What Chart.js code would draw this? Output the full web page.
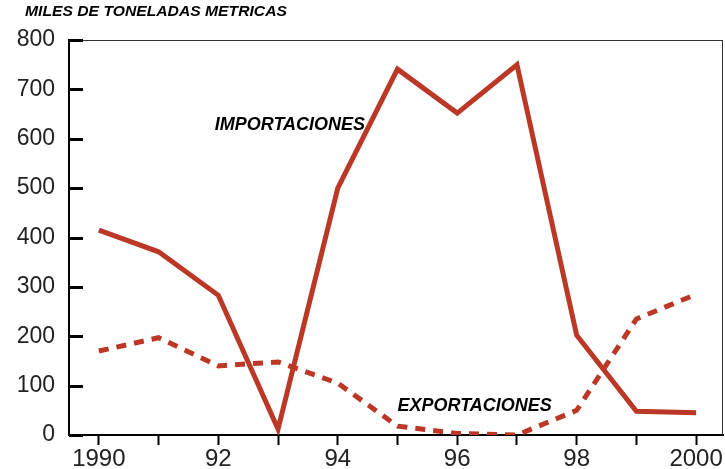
<!DOCTYPE html>
<html>
<head>
<meta charset="utf-8">
<script src="https://cdn.jsdelivr.net/npm/chart.js@4/dist/chart.umd.min.js"></script>
<style>
	html, body { margin: 0; padding: 0; background: #fff; }
	#wrap { position: relative; width: 725px; height: 469px; }
</style>
</head>
<body>
<div id="wrap"><canvas id="chart" width="725" height="469"></canvas></div>
<script>
const years = [1990, 1991, 1992, 1993, 1994, 1995, 1996, 1997, 1998, 1999, 2000];
const yearLabels = ['1990', '', '92', '', '94', '', '96', '', '98', '', '2000'];
const importaciones = [415, 371, 283, 12, 500, 741, 652, 750, 202, 48, 45];
const exportaciones = [170, 197, 140, 148, 105, 18, 3, 0, 50, 235, 285];
const yTicks = [0, 100, 200, 300, 400, 500, 600, 700, 800];

const lineColor = 'rgb(188, 56, 38)';

// texts placed in data units so they follow the scales
const notes = [
	{ text: 'IMPORTACIONES', x: 1991.94, y: 628 },
	{ text: 'EXPORTACIONES', x: 1995.0, y: 58 },
];

const notesPlugin = {
	id: 'notes',
	afterDraw(chart) {
		const { ctx, chartArea, scales } = chart;
		ctx.save();
		ctx.setLineDash([]);
		// top and right frame
		ctx.fillStyle = '#333';
		ctx.fillRect(chartArea.left, chartArea.top, chartArea.right - chartArea.left, 1);
		ctx.fillRect(chartArea.right - 1, chartArea.top, 1, chartArea.bottom - chartArea.top);

		// y ticks point inward
		ctx.fillStyle = '#000';
		const left = scales.y.right;
		yTicks.forEach(v => {
			const py = Math.round(scales.y.getPixelForValue(v));
			ctx.fillRect(left, py - 1, 14, 3);
		});

		ctx.textBaseline = 'middle';
		ctx.textAlign = 'left';
		ctx.font = 'italic bold 18px "Liberation Sans", Arial, sans-serif';
		notes.forEach(n => {
			ctx.fillText(n.text, scales.x.getPixelForValue(n.x), scales.y.getPixelForValue(n.y));
		});
		ctx.font = 'italic bold 14px "Liberation Sans", Arial, sans-serif';
		ctx.translate(25, 12);
		ctx.scale(1.12, 1);
		ctx.fillText('MILES DE TONELADAS METRICAS', 0, 0);
		ctx.restore();
	}
};

const data = {
	datasets: [{
		label: 'Importaciones',
		data: years.map((yr, i) => ({ x: yr, y: importaciones[i] })),
		borderColor: lineColor,
		borderWidth: 5,
		pointRadius: 0,
		tension: 0,
	}, {
		label: 'Exportaciones',
		data: years.map((yr, i) => ({ x: yr, y: exportaciones[i] })),
		borderColor: lineColor,
		borderWidth: 5,
		borderDash: [10, 8],
		pointRadius: 0,
		tension: 0,
	}],
};

const config = {
	type: 'line',
	data: data,
	options: {
		responsive: false,
		animation: false,
		layout: { padding: { top: 40, right: 2, left: 0, bottom: 0 } },
		plugins: {
			legend: { display: false },
			tooltip: { enabled: false },
		},
		scales: {
			x: {
				type: 'linear',
				min: 1989.5,
				max: 2000.45,
				afterBuildTicks: (axis) => { axis.ticks = years.map(v => ({ value: v })); },
				afterFit: (axis) => { axis.height = 34; },
				grid: { drawOnChartArea: false, tickLength: 10, color: '#000', tickWidth: 2 },
				border: { color: '#000', width: 2 },
				ticks: {
					autoSkip: false,
					maxRotation: 0,
					padding: 0,
					color: '#222',
					font: { family: '"Liberation Sans", Arial, sans-serif', size: 24 },
					callback: (v) => yearLabels[years.indexOf(v)] ?? '',
				},
			},
			y: {
				min: 0,
				max: 800,
				afterBuildTicks: (axis) => { axis.ticks = yTicks.map(v => ({ value: v })); },
				afterFit: (axis) => { axis.width = 69; },
				grid: { drawOnChartArea: false, drawTicks: false },
				border: { color: '#000', width: 2 },
				ticks: {
					padding: 14,
					color: '#222',
					font: { family: '"Liberation Sans", Arial, sans-serif', size: 23 },
				},
			},
		},
	},
	plugins: [notesPlugin],
};

const ctx = document.getElementById('chart');
const myChart = new Chart(ctx, config);
</script>
</body>
</html>
